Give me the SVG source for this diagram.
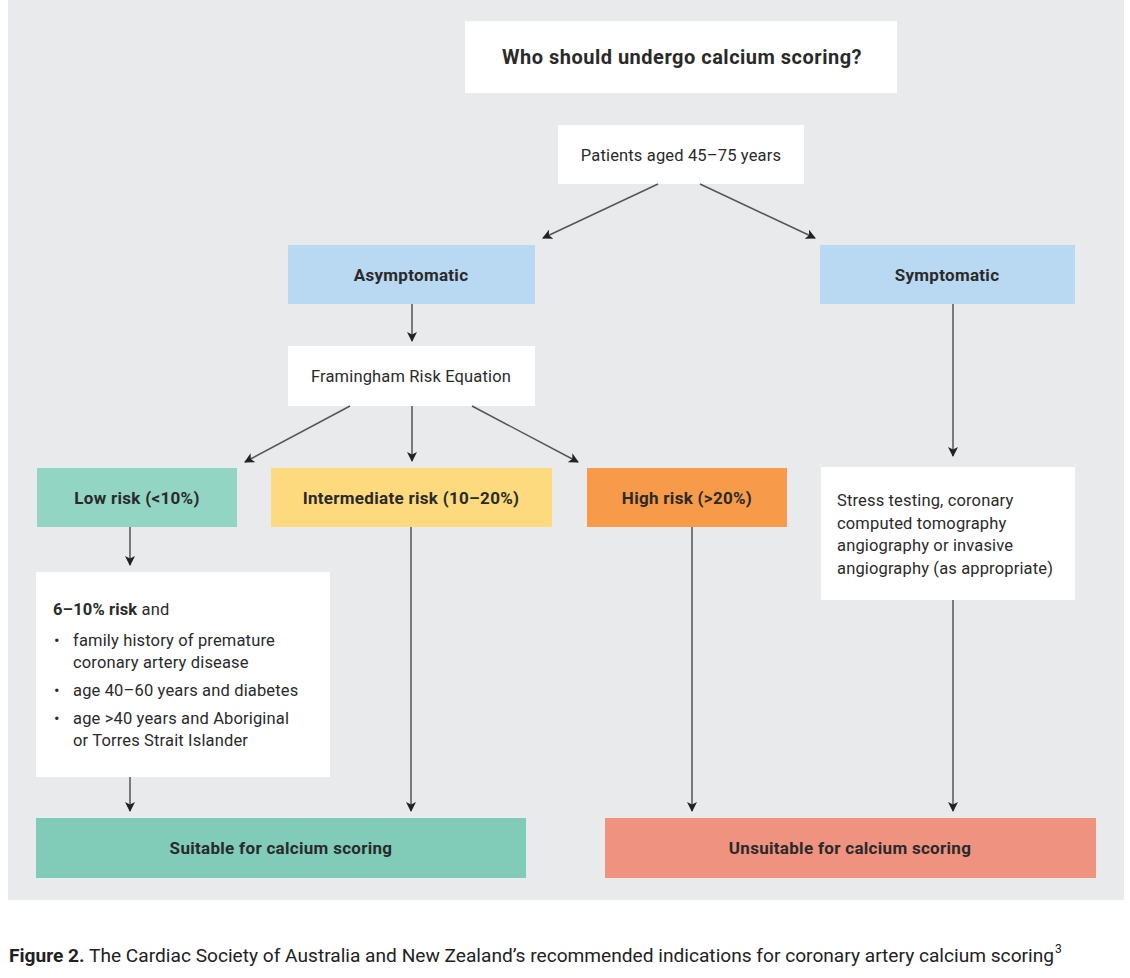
<svg xmlns="http://www.w3.org/2000/svg" width="1130" height="978" viewBox="0 0 1130 978">
<defs>
<marker id="ah" viewBox="0 0 10 10" refX="9" refY="5" markerWidth="10" markerHeight="10" markerUnits="userSpaceOnUse" orient="auto">
<path d="M0,0 L10,5 L0,10 L2.5,5 Z" fill="#222"/>
</marker>
<style>
.lbl{font-family:Roboto,"Liberation Sans",sans-serif;font-size:17px;letter-spacing:0.3px;font-weight:bold;fill:#2a2a2a;text-anchor:middle}
.txt{font-family:Roboto,"Liberation Sans",sans-serif;font-size:16.5px;letter-spacing:0.15px;fill:#2a2a2a}
.ctr{text-anchor:middle}
.conn line{stroke:#555;stroke-width:1.5;marker-end:url(#ah)}
</style>
</defs>
<rect x="0" y="0" width="1130" height="978" fill="#ffffff"/>
<rect x="8" y="0" width="1116" height="900" fill="#e9eaec"/>

<g id="title"><rect x="465" y="21" width="432" height="72" fill="#fff"/><text x="682" y="64" class="lbl" style="font-size:20px;letter-spacing:0.5px">Who should undergo calcium scoring?</text></g>
<g id="patients"><rect x="558" y="125" width="246" height="59" fill="#fff"/><text x="681" y="161" class="txt ctr">Patients aged 45–75 years</text></g>
<g id="asymptomatic"><rect x="288" y="245" width="247" height="59" fill="#b9d8f1"/><text x="411" y="281" class="lbl">Asymptomatic</text></g>
<g id="symptomatic"><rect x="820" y="245" width="255" height="59" fill="#b9d8f1"/><text x="947" y="281" class="lbl">Symptomatic</text></g>
<g id="framingham"><rect x="288" y="346" width="247" height="60" fill="#fff"/><text x="411" y="382" class="txt ctr">Framingham Risk Equation</text></g>
<g id="low"><rect x="37" y="468" width="200" height="59" fill="#93d5c3"/><text x="137" y="504" class="lbl">Low risk (&lt;10%)</text></g>
<g id="intermediate"><rect x="271" y="468" width="281" height="59" fill="#fdda7e"/><text x="411" y="504" class="lbl">Intermediate risk (10–20%)</text></g>
<g id="high"><rect x="587" y="468" width="200" height="59" fill="#f79a49"/><text x="687" y="504" class="lbl">High risk (&gt;20%)</text></g>
<g id="stress"><rect x="821" y="467" width="254" height="133" fill="#fff"/>
<text class="txt"><tspan x="837" y="506">Stress testing, coronary</tspan><tspan x="837" y="529">computed tomography</tspan><tspan x="837" y="551">angiography or invasive</tspan><tspan x="837" y="574">angiography (as appropriate)</tspan></text></g>
<g id="criteria"><rect x="36" y="572" width="294" height="205" fill="#fff"/>
<text class="txt" x="53" y="615"><tspan font-weight="bold">6–10% risk</tspan> and</text>
<text class="txt"><tspan x="54" y="646">•</tspan><tspan x="73" y="646">family history of premature</tspan><tspan x="73" y="668">coronary artery disease</tspan><tspan x="54" y="696">•</tspan><tspan x="73" y="696">age 40–60 years and diabetes</tspan><tspan x="54" y="724">•</tspan><tspan x="73" y="724">age &gt;40 years and Aboriginal</tspan><tspan x="73" y="746">or Torres Strait Islander</tspan></text></g>
<g id="suitable"><rect x="36" y="818" width="490" height="60" fill="#80ccb8"/><text x="281" y="854" class="lbl">Suitable for calcium scoring</text></g>
<g id="unsuitable"><rect x="605" y="818" width="491" height="60" fill="#ef927f"/><text x="850" y="854" class="lbl">Unsuitable for calcium scoring</text></g>

<g id="connectors" class="conn">
<line x1="658" y1="184" x2="543" y2="238"/>
<line x1="700" y1="184" x2="815" y2="238"/>
<line x1="412" y1="304" x2="412" y2="341"/>
<line x1="350" y1="406" x2="245" y2="462"/>
<line x1="412" y1="406" x2="412" y2="461"/>
<line x1="472" y1="406" x2="578" y2="462"/>
<line x1="953" y1="304" x2="953" y2="456"/>
<line x1="130" y1="527" x2="130" y2="565"/>
<line x1="130" y1="777" x2="130" y2="811"/>
<line x1="411" y1="527" x2="411" y2="811"/>
<line x1="692" y1="527" x2="692" y2="811"/>
<line x1="953" y1="600" x2="953" y2="811"/>
</g>

<text id="caption" x="9" y="962" style="font-family:Roboto,'Liberation Sans',sans-serif;font-size:18px;fill:#222" textLength="1045" lengthAdjust="spacingAndGlyphs"><tspan font-weight="bold">Figure 2.</tspan> The Cardiac Society of Australia and New Zealand’s recommended indications for coronary artery calcium scoring</text>
<text x="1055" y="953" style="font-family:Roboto,'Liberation Sans',sans-serif;font-size:12px;fill:#222">3</text>
</svg>
